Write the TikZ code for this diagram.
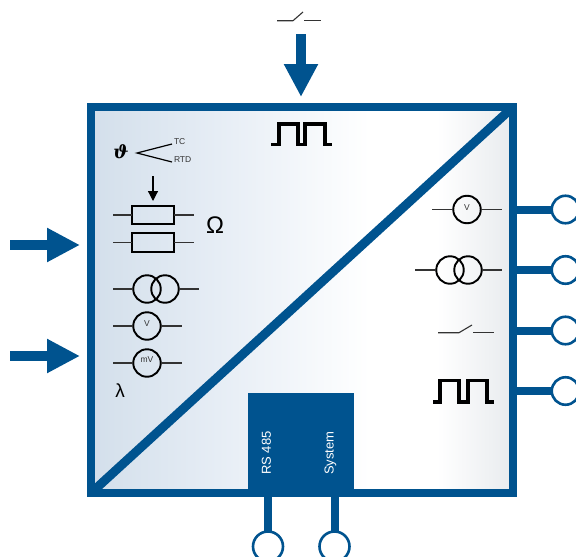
\documentclass[tikz,border=0pt]{standalone}
\usepackage{fontspec}
\setmainfont{Liberation Sans}
\newfontfamily\symfont{DejaVu Serif}
\usetikzlibrary{arrows.meta,calc}
\definecolor{frameblue}{HTML}{00538F}
\definecolor{panelA}{HTML}{D3DFEB}
\definecolor{panelB}{HTML}{E6EDF5}
\definecolor{panelC}{HTML}{FFFFFF}
\definecolor{panelD}{HTML}{E8EBEE}
\definecolor{leadgrey}{HTML}{333333}
\pgfdeclarehorizontalshading{panelshade}{100bp}{
  color(0bp)=(panelA); color(25bp)=(panelA); color(40bp)=(panelB);
  color(58bp)=(panelC); color(66bp)=(panelC); color(75bp)=(panelD); color(100bp)=(panelD)}
\tikzset{
  x=1pt,y=-1pt,
  every node/.style={inner sep=0pt,outer sep=0pt},
  frame/.style={shading=panelshade,draw=frameblue,line width=8pt,minimum width=422pt,minimum height=386pt},
  bluebox/.style={fill=frameblue,minimum width=106pt,minimum height=100pt},
  stub/.style={draw=frameblue,line width=8pt},
  diag/.style={draw=frameblue,line width=9pt},
  stubthin/.style={draw=frameblue,line width=8pt},
  terminal/.style={circle,draw=frameblue,fill=white,line width=2.6pt,minimum size=27.5pt},
  bigterminal/.style={circle,draw=frameblue,fill=white,line width=2.6pt,minimum size=30pt},
  bigarrow/.style={draw=frameblue,line width=10.5pt,-{Triangle[length=33pt,width=32pt,fill=frameblue]}},
  meter/.style={circle,draw=black,line width=1.9pt,minimum size=27.5pt},
  resistor/.style={rectangle,draw=black,line width=1.9pt,minimum width=42pt,minimum height=18pt},
  lead/.style={draw=leadgrey,line width=1.1pt},
  pulse/.style={draw=black,line width=3.6pt,line cap=butt,line join=miter},
  meterlabel/.style={font=\fontsize{8.5}{10}\selectfont,text=leadgrey},
  smalllabel/.style={font=\fontsize{8.5}{10}\selectfont,text=leadgrey},
  boxlabel/.style={font=\fontsize{13}{15}\selectfont,text=white,rotate=90},
}
\begin{document}
\begin{tikzpicture}
\useasboundingbox (0,0) rectangle (576,557);
\clip (0,0) rectangle (576,557);
% frame and diagonal
\node[frame,anchor=north west] (panel) at (91,107) {};
\draw[diag] (panel.south west) -- (panel.north east);
\draw[draw=frameblue,line width=8pt] (panel.north west) rectangle (panel.south east);
% bus box
\node[bluebox,anchor=north west] (bus) at (248,393) {};
\node[boxlabel] (rs) at (266.5,453) {RS 485};
\node[boxlabel] (sys) at (330.5,453) {System};
% right terminals
\node[terminal] (t1) at (565.5,209.5) {};
\node[terminal] (t2) at (565.5,270) {};
\node[terminal] (t3) at (565.5,330.5) {};
\node[terminal] (t4) at (565.5,391) {};
\foreach \t in {t1,t2,t3,t4}{\draw[stub] (\t.west) -- (\t.west -| panel.east);}
% bottom terminals
\node[bigterminal] (b1) at (268,546.5) {};
\node[bigterminal] (b2) at (334.5,546.5) {};
\foreach \t in {b1,b2}{\draw[stubthin] (\t.north) -- (\t.north |- panel.south);}
% input arrows
\coordinate (a1s) at (10,245); \coordinate (a1e) at (80,245);
\coordinate (a2s) at (10,356); \coordinate (a2e) at (80,356);
\coordinate (a3s) at (301,34); \coordinate (a3e) at (301,97);
\draw[bigarrow] (a1s) -- (a1e);
\draw[bigarrow] (a2s) -- (a2e);
\draw[bigarrow] (a3s) -- (a3e);
% top switch
\coordinate (sa1) at (277,20.7); \coordinate (sa2) at (293,20.7); \coordinate (sa3) at (303,12);
\coordinate (sa4) at (304,20.7); \coordinate (sa5) at (321,20.7);
\draw[lead] (sa1) -- (sa2) -- (sa3);
\draw[lead] (sa4) -- (sa5);
% top pulse
\draw[pulse] (271,144.5) -- (279,144.5) -- (279,124) -- (298,124) -- (298,144.5) -- (305,144.5) -- (305,124) -- (325,124) -- (325,144.5) -- (332,144.5);
% thermo
\node[font=\fontsize{18}{20}\selectfont\symfont\bfseries\itshape] (theta) at (121,151.5) {ϑ};
\node[smalllabel,anchor=west] (tc) at (174,142) {TC};
\node[smalllabel,anchor=west] (rtd) at (174,160) {RTD};
\coordinate (apex) at (137,153);
\draw[draw=black,line width=1.2pt] (tc.west) ++(-2,2) -- (apex) -- ($(rtd.west)+(-2,2)$);
% resistors
\node[resistor] (r1) at (153,215) {};
\node[resistor,minimum height=19pt] (r2) at (153,242.5) {};
\draw[lead] (r1.west) -- ++(-19,0); \draw[lead] (r1.east) -- ++(20,0);
\draw[lead] (r2.west) -- ++(-19,0); \draw[lead] (r2.east) -- ++(20,0);
\coordinate (wiper) at (153,176);
\draw[draw=black,line width=1.2pt,shorten >=5pt,-{Triangle[length=10pt,width=10pt]}] (wiper) -- (r1.north);
\node[font=\fontsize{24}{26}\selectfont] (omega) at (215,225.5) {Ω};
% left double circle
\node[meter] (c1) at (147,289) {};
\node[meter] (c2) at (165,289) {};
\draw[lead] (c1.west) -- ++(-20,0); \draw[lead] (c2.east) -- ++(20,0);
% V
\node[meter] (v1) at (147,326) {};
\node[meterlabel] at (147,324) {V};
\draw[lead] (v1.west) -- ++(-20,0); \draw[lead] (v1.east) -- ++(21,0);
% mV
\node[meter] (v2) at (147,363) {};
\node[meterlabel] at (147,360) {mV};
\draw[lead] (v2.west) -- ++(-20,0); \draw[lead] (v2.east) -- ++(21,0);
\node[font=\fontsize{19}{21}\selectfont] (lam) at (120,391) {λ};
% right V
\node[meter] (v3) at (467,209.5) {};
\node[meterlabel] at (467,208) {V};
\draw[lead] (v3.west) -- ++(-21,0); \draw[lead] (v3.east) -- ++(21,0);
% right double circle
\node[meter] (c3) at (450,270) {};
\node[meter] (c4) at (468,270) {};
\draw[lead] (c3.west) -- ++(-21,0); \draw[lead] (c4.east) -- ++(20,0);
% right switch
\coordinate (sb1) at (438,332.7); \coordinate (sb2) at (459,332.7); \coordinate (sb3) at (472,325);
\coordinate (sb4) at (473,332.7); \coordinate (sb5) at (494,332.7);
\draw[lead] (sb1) -- (sb2) -- (sb3);
\draw[lead] (sb4) -- (sb5);
% right pulse
\draw[pulse] (433,402) -- (440,402) -- (440,380.5) -- (459,380.5) -- (459,402) -- (468,402) -- (468,380.5) -- (487,380.5) -- (487,402) -- (494,402);
\end{tikzpicture}
\end{document}
